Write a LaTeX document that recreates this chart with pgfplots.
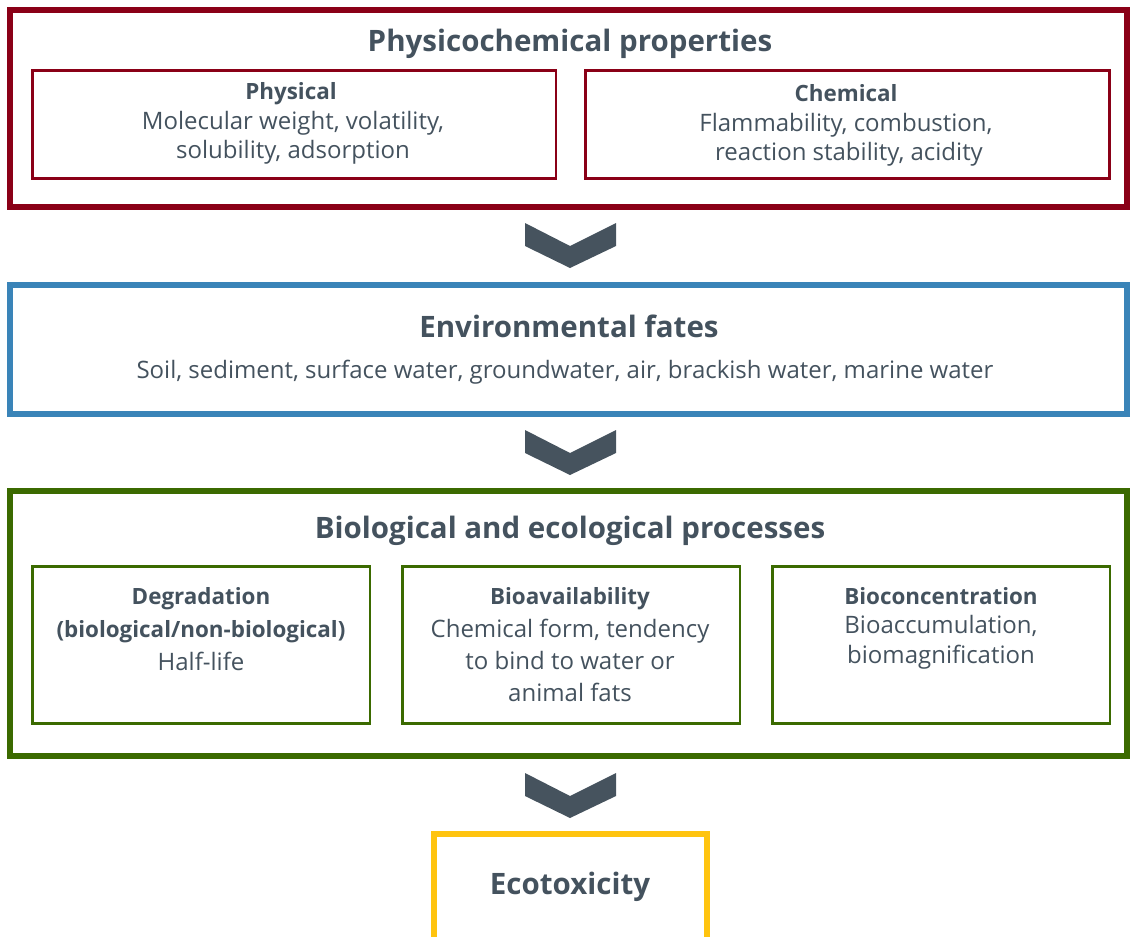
\documentclass[border=0pt]{standalone}
\usepackage{pgfplots}
\pgfplotsset{compat=1.18}
\usepackage{fontspec}
\setmainfont{Open Sans}
\definecolor{cred}{HTML}{8A0017}
\definecolor{cblue}{HTML}{3A84B8}
\definecolor{cgreen}{HTML}{3B6A00}
\definecolor{cyellow}{HTML}{FFC40F}
\definecolor{ctext}{HTML}{44525E}
\definecolor{cchev}{HTML}{46535E}
\newcommand{\FT}{\color{ctext}\fontsize{29.5}{33}\selectfont\bfseries}
\newcommand{\FH}{\color{ctext}\fontsize{22.4}{26}\selectfont\bfseries}
\newcommand{\FB}{\color{ctext}\fontsize{24}{28}\selectfont}
\tikzset{lbl/.style={anchor=base,inner sep=0pt,text=ctext}}
\begin{document}
\begin{tikzpicture}
\begin{axis}[width=1130pt,height=937pt,scale only axis,
  xmin=0,xmax=1130,ymin=0,ymax=937,y dir=reverse,hide axis,clip=true]
\path (axis cs:0,0) rectangle (axis cs:1130,937);
% outer boxes
\addplot[draw=cred,line width=6pt,line join=miter] coordinates {(10,10) (1127,10) (1127,207) (10,207)} --cycle;
\addplot[draw=cred,line width=2.5pt,line join=miter] coordinates {(32.5,70.5) (556,70.5) (556,178.5) (32.5,178.5)} --cycle;
\addplot[draw=cred,line width=2.5pt,line join=miter] coordinates {(585.5,70.5) (1109.5,70.5) (1109.5,178.5) (585.5,178.5)} --cycle;
\addplot[draw=cblue,line width=6pt,line join=miter] coordinates {(10,285) (1127,285) (1127,414) (10,414)} --cycle;
\addplot[draw=cgreen,line width=6pt,line join=miter] coordinates {(10,491) (1127,491) (1127,756) (10,756)} --cycle;
\addplot[draw=cgreen,line width=2.5pt,line join=miter] coordinates {(32.5,566.5) (370,566.5) (370,723.5) (32.5,723.5)} --cycle;
\addplot[draw=cgreen,line width=2.5pt,line join=miter] coordinates {(402.5,566.5) (740,566.5) (740,723.5) (402.5,723.5)} --cycle;
\addplot[draw=cgreen,line width=2.5pt,line join=miter] coordinates {(772.5,566.5) (1110,566.5) (1110,723.5) (772.5,723.5)} --cycle;
\addplot[draw=cyellow,line width=6pt,line join=miter] coordinates {(434,960) (434,834) (707,834) (707,960)};
% chevrons
\addplot[fill=cchev,draw=none] coordinates {(525,223) (570,246) (616,223) (616,246) (570,268) (525,246)} --cycle;
\addplot[fill=cchev,draw=none] coordinates {(525,430) (570,453) (616,430) (616,453) (570,475) (525,453)} --cycle;
\addplot[fill=cchev,draw=none] coordinates {(525,773) (570,796) (616,773) (616,796) (570,818) (525,796)} --cycle;
% texts
\node[lbl] at (axis cs:570,51) {\FT Physicochemical properties};
\node[lbl] at (axis cs:291,99) {\FH Physical};
\node[lbl] at (axis cs:293,129) {\FB Molecular weight, volatility,};
\node[lbl] at (axis cs:293,158) {\FB solubility, adsorption};
\node[lbl] at (axis cs:846,101) {\FH Chemical};
\node[lbl] at (axis cs:846,131) {\FB Flammability, combustion,};
\node[lbl] at (axis cs:849,160) {\FB reaction stability, acidity};
\node[lbl] at (axis cs:569,337) {\FT Environmental fates};
\node[lbl] at (axis cs:565,378) {\FB Soil, sediment, surface water, groundwater, air, brackish water, marine water};
\node[lbl] at (axis cs:570,538) {\FT Biological and ecological processes};
\node[lbl] at (axis cs:201,604) {\FH Degradation};
\node[lbl] at (axis cs:201,637) {\FH (biological/non-biological)};
\node[lbl] at (axis cs:201,670) {\FB Half-life};
\node[lbl] at (axis cs:570,604) {\FH Bioavailability};
\node[lbl] at (axis cs:570,637) {\FB Chemical form, tendency};
\node[lbl] at (axis cs:570,669) {\FB to bind to water or};
\node[lbl] at (axis cs:570,701) {\FB animal fats};
\node[lbl] at (axis cs:941,604) {\FH Bioconcentration};
\node[lbl] at (axis cs:941,633) {\FB Bioaccumulation,};
\node[lbl] at (axis cs:941,663) {\FB biomagnification};
\node[lbl] at (axis cs:570,894) {\FT Ecotoxicity};
\end{axis}
\end{tikzpicture}
\end{document}
